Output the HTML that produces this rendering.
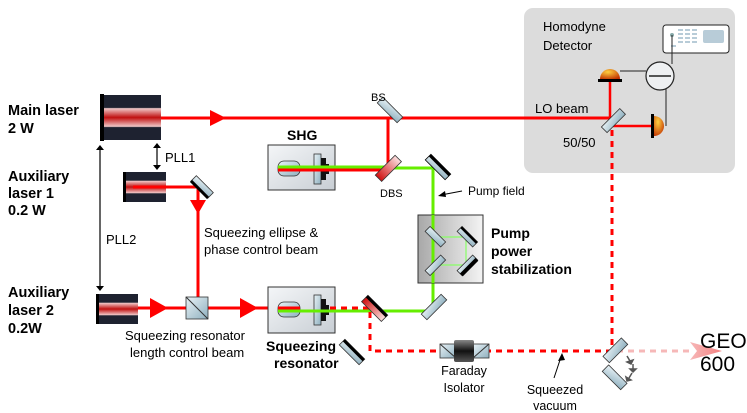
<!DOCTYPE html>
<html><head><meta charset="utf-8"><style>
html,body{margin:0;padding:0;background:#fff;}
svg{display:block;font-family:"Liberation Sans",sans-serif;}
</style></head><body>
<svg width="747" height="413" viewBox="0 0 747 413" xmlns="http://www.w3.org/2000/svg">
<defs>
<linearGradient id="las" x1="0" y1="0" x2="0" y2="1">
<stop offset="0" stop-color="#1e2230"/><stop offset="0.28" stop-color="#1e2230"/>
<stop offset="0.3" stop-color="#f0c8c8"/><stop offset="0.5" stop-color="#c01010"/>
<stop offset="0.7" stop-color="#f0c8c8"/><stop offset="0.72" stop-color="#1e2230"/><stop offset="1" stop-color="#1e2230"/>
</linearGradient>
<linearGradient id="glass" x1="0" y1="0" x2="1" y2="1">
<stop offset="0" stop-color="#e8f2f6"/><stop offset="1" stop-color="#8fb0bf"/>
</linearGradient>
<linearGradient id="redm" x1="0" y1="0" x2="1" y2="0">
<stop offset="0" stop-color="#d01010"/><stop offset="1" stop-color="#fbe0e0"/>
</linearGradient>
<linearGradient id="box" x1="0" y1="0" x2="1" y2="1">
<stop offset="0" stop-color="#f4f6f8"/><stop offset="1" stop-color="#c8ced4"/>
</linearGradient>
<linearGradient id="pbox" x1="0" y1="0" x2="1" y2="0">
<stop offset="0" stop-color="#a8a8a8"/><stop offset="1" stop-color="#f4f4f4"/>
</linearGradient>
<radialGradient id="det" cx="0.4" cy="0.3" r="0.8">
<stop offset="0" stop-color="#ffd040"/><stop offset="1" stop-color="#c03000"/>
</radialGradient>
<linearGradient id="far" x1="0" y1="0" x2="0" y2="1">
<stop offset="0" stop-color="#888"/><stop offset="0.5" stop-color="#111"/><stop offset="1" stop-color="#555"/>
</linearGradient>
<linearGradient id="pink" x1="0" y1="0" x2="1" y2="0">
<stop offset="0" stop-color="#f6b8b8"/><stop offset="1" stop-color="#f48080"/>
</linearGradient>
</defs>

<rect x="524" y="8" width="211" height="165" rx="9" fill="#dcdcdc"/>
<text x="543" y="31" font-size="13">Homodyne</text>
<text x="543" y="50" font-size="13">Detector</text>
<rect x="663" y="25" width="66" height="28" rx="3" fill="#fff" stroke="#222" stroke-width="1"/>
<rect x="703" y="30" width="21" height="13" rx="2" fill="#b8ccd8"/>
<g fill="#b8ccd8"><rect x="678" y="29" width="5" height="2"/><rect x="685" y="29" width="5" height="2"/><rect x="692" y="29" width="5" height="2"/>
<rect x="678" y="33" width="5" height="2"/><rect x="685" y="33" width="5" height="2"/><rect x="692" y="33" width="5" height="2"/>
<rect x="678" y="37" width="5" height="2"/><rect x="685" y="37" width="5" height="2"/><rect x="692" y="37" width="5" height="2"/>
<rect x="678" y="41" width="5" height="2"/><rect x="685" y="41" width="5" height="2"/><rect x="692" y="41" width="5" height="2"/>
<rect x="671" y="45" width="5" height="2"/></g>
<circle cx="672" cy="35" r="2" fill="#8aa"/>
<line x1="672" y1="35" x2="672" y2="64" stroke="#222" stroke-width="1"/>
<line x1="620" y1="71" x2="646" y2="71" stroke="#222" stroke-width="1"/>
<line x1="666" y1="88" x2="666" y2="126" stroke="#222" stroke-width="1"/>
<circle cx="660" cy="76" r="14" fill="#eef0f2" stroke="#222" stroke-width="1.2"/>
<line x1="649" y1="76" x2="671" y2="76" stroke="#222" stroke-width="1.5"/>

<line x1="160" y1="118" x2="610" y2="118" stroke="#f00" stroke-width="3"/>
<polygon points="210,110 226,118 210,126" fill="#f00"/>
<line x1="610" y1="118" x2="610" y2="72" stroke="#f00" stroke-width="2.5"/>
<line x1="613" y1="126" x2="652" y2="126" stroke="#f00" stroke-width="2.5"/>
<path d="M600 79 A10 10 0 0 1 620 79 Z" fill="url(#det)"/>
<rect x="598" y="79" width="24" height="3" fill="#000"/>
<path d="M654 116 A10 10 0 0 1 654 136 Z" fill="url(#det)"/>
<rect x="651" y="114" width="3" height="24" fill="#000"/>
<rect x="601" y="118" width="26" height="8" fill="url(#glass)" stroke="#333" stroke-width="0.8" transform="rotate(-45 612 122)"/>
<text x="535" y="113" font-size="13">LO beam</text>
<text x="563" y="147" font-size="13">50/50</text>

<rect x="104" y="95" width="57" height="45" fill="url(#las)"/>
<rect x="100" y="94" width="4" height="47" fill="#000"/>
<text x="8" y="115" font-size="14.5" font-weight="bold">Main laser</text>
<text x="8" y="133" font-size="14.5" font-weight="bold">2 W</text>

<line x1="388" y1="118" x2="388" y2="168" stroke="#f00" stroke-width="3"/>
<rect x="376" y="106" width="28" height="8" fill="url(#glass)" stroke="#333" stroke-width="0.8" transform="rotate(45 390 110)"/>
<text x="371" y="101" font-size="11">BS</text>

<rect x="268" y="145" width="67" height="45" fill="url(#box)" stroke="#333" stroke-width="1"/>
<text x="287" y="140" font-size="14" font-weight="bold">SHG</text>
<rect x="278" y="161" width="22" height="15" rx="6" fill="url(#glass)" stroke="#333" stroke-width="0.8"/>
<rect x="314" y="154" width="7" height="30" fill="url(#glass)" stroke="#333" stroke-width="0.8"/>
<path d="M321 158 h5 v6 h3 v10 h-3 v6 h-5 Z" fill="#111"/>
<line x1="278" y1="167" x2="388" y2="167" stroke="#6e0" stroke-width="3"/>
<line x1="278" y1="170" x2="388" y2="170" stroke="#f00" stroke-width="3"/>
<polyline points="388,168 433,168 433,308" fill="none" stroke="#6e0" stroke-width="3"/>
<rect x="374" y="164" width="28" height="9" fill="url(#redm)" stroke="#333" stroke-width="0.8" transform="rotate(-45 388 168)"/>
<text x="380" y="197" font-size="11">DBS</text>
<rect x="424" y="163" width="28" height="8" fill="url(#glass)" stroke="#000" stroke-width="0.8" transform="rotate(45 438 167)"/>
<rect x="424" y="163" width="28" height="3" fill="#000" transform="rotate(45 438 167)"/>
<line x1="462" y1="191" x2="441" y2="195" stroke="#000" stroke-width="1"/>
<polygon points="438,196 445,191 446,197" fill="#000"/>
<text x="468" y="195" font-size="12">Pump field</text>

<rect x="418" y="215" width="65" height="68" fill="url(#pbox)" stroke="#333" stroke-width="1"/>
<polyline points="433,237 466,237 466,265 433,265" fill="none" stroke="#8f6" stroke-width="1.2"/>
<line x1="433" y1="215" x2="433" y2="283" stroke="#6e0" stroke-width="3"/>
<rect x="424" y="233" width="22" height="7" fill="url(#glass)" stroke="#333" stroke-width="0.8" transform="rotate(45 435 237)"/>
<rect x="424" y="262" width="22" height="7" fill="url(#glass)" stroke="#333" stroke-width="0.8" transform="rotate(-45 435 265)"/>
<rect x="456" y="233" width="22" height="7" fill="url(#glass)" stroke="#333" stroke-width="0.8" transform="rotate(45 467 237)"/>
<rect x="456" y="233" width="22" height="2.5" fill="#000" transform="rotate(45 467 237)"/>
<rect x="456" y="262" width="22" height="7" fill="url(#glass)" stroke="#333" stroke-width="0.8" transform="rotate(-45 467 265)"/>
<rect x="456" y="266" width="22" height="4" fill="#000" transform="rotate(-45 467 265)"/>
<text x="491" y="238" font-size="14" font-weight="bold">Pump</text>
<text x="491" y="256" font-size="14" font-weight="bold">power</text>
<text x="491" y="274" font-size="14" font-weight="bold">stabilization</text>

<rect x="126" y="172" width="40" height="30" fill="url(#las)"/>
<rect x="123" y="172" width="3" height="30" fill="#000"/>
<line x1="133" y1="187" x2="198" y2="187" stroke="#f00" stroke-width="3"/>
<line x1="198" y1="187" x2="198" y2="300" stroke="#f00" stroke-width="3"/>
<polygon points="190,200 206,200 198,214" fill="#f00"/>
<rect x="190" y="183" width="24" height="8" fill="url(#glass)" stroke="#333" stroke-width="0.8" transform="rotate(45 202 187)"/>
<rect x="190" y="189" width="24" height="3" fill="#000" transform="rotate(45 202 187)"/>
<text x="8" y="181" font-size="14.5" font-weight="bold">Auxiliary</text>
<text x="8" y="198" font-size="14.5" font-weight="bold">laser 1</text>
<text x="8" y="215" font-size="14.5" font-weight="bold">0.2 W</text>
<text x="204" y="237" font-size="13">Squeezing ellipse &amp;</text>
<text x="204" y="254" font-size="13">phase control beam</text>

<line x1="157" y1="147" x2="157" y2="166" stroke="#000" stroke-width="1.2"/>
<polygon points="153,148 161,148 157,143" fill="#000"/><polygon points="153,165 161,165 157,170" fill="#000"/>
<text x="165" y="162" font-size="13">PLL1</text>
<line x1="100" y1="149" x2="100" y2="287" stroke="#000" stroke-width="1.2"/>
<polygon points="96,150 104,150 100,145" fill="#000"/><polygon points="96,286 104,286 100,291" fill="#000"/>
<text x="106" y="244" font-size="13">PLL2</text>

<rect x="99" y="294" width="39" height="30" fill="url(#las)"/>
<rect x="96" y="294" width="3" height="30" fill="#000"/>
<line x1="138" y1="308" x2="278" y2="308" stroke="#f00" stroke-width="3"/>
<polygon points="150,298 168,308 150,318" fill="#f00"/>
<polygon points="240,298 258,308 240,318" fill="#f00"/>
<rect x="186" y="297" width="22" height="22" fill="url(#glass)" stroke="#333" stroke-width="0.8"/>
<line x1="186" y1="297" x2="208" y2="319" stroke="#333" stroke-width="1"/>
<text x="8" y="297" font-size="14.5" font-weight="bold">Auxiliary</text>
<text x="8" y="315" font-size="14.5" font-weight="bold">laser 2</text>
<text x="8" y="333" font-size="14.5" font-weight="bold">0.2W</text>
<text x="125" y="340" font-size="13">Squeezing resonator</text>
<text x="130" y="357" font-size="13">length control beam</text>

<rect x="268" y="287" width="67" height="46" fill="url(#box)" stroke="#333" stroke-width="1"/>
<rect x="278" y="302" width="22" height="15" rx="6" fill="url(#glass)" stroke="#333" stroke-width="0.8"/>
<rect x="314" y="295" width="7" height="30" fill="url(#glass)" stroke="#333" stroke-width="0.8"/>
<path d="M321 299 h5 v6 h3 v10 h-3 v6 h-5 Z" fill="#111"/>
<line x1="278" y1="308" x2="300" y2="308" stroke="#f00" stroke-width="3"/>
<line x1="278" y1="311" x2="433" y2="311" stroke="#6e0" stroke-width="3"/>
<text x="266" y="351" font-size="14" font-weight="bold">Squeezing</text>
<text x="274" y="368" font-size="14" font-weight="bold">resonator</text>
<g fill="none" stroke="#f00" stroke-width="3" stroke-dasharray="6,5">
<polyline points="330,308 370,308 370,351 612,351"/>
<line x1="612" y1="130" x2="612" y2="348"/>
</g>
<line x1="617" y1="351" x2="690" y2="351" stroke="#f6b8b8" stroke-width="3" stroke-dasharray="6,5"/>
<polygon points="690,342 722,351 690,360 697,351" fill="url(#pink)"/>
<rect x="361" y="304" width="28" height="9" fill="url(#redm)" stroke="#333" stroke-width="0.8" transform="rotate(45 375 308)"/>
<rect x="361" y="304" width="28" height="3" fill="#000" transform="rotate(45 375 308)"/>
<rect x="420" y="303" width="28" height="8" fill="url(#glass)" stroke="#333" stroke-width="0.8" transform="rotate(-45 434 307)"/>
<rect x="338" y="348" width="28" height="8" fill="url(#glass)" stroke="#333" stroke-width="0.8" transform="rotate(45 352 352)"/>
<rect x="338" y="348" width="28" height="3" fill="#000" transform="rotate(45 352 352)"/>

<rect x="440" y="344" width="16" height="14" fill="url(#glass)" stroke="#333" stroke-width="0.8"/>
<line x1="440" y1="344" x2="456" y2="358" stroke="#333"/>
<rect x="473" y="344" width="16" height="14" fill="url(#glass)" stroke="#333" stroke-width="0.8"/>
<line x1="473" y1="358" x2="489" y2="344" stroke="#333"/>
<rect x="454" y="340" width="20" height="22" rx="2" fill="url(#far)"/>
<text x="464" y="375" font-size="12.5" text-anchor="middle">Faraday</text>
<text x="464" y="392" font-size="12.5" text-anchor="middle">Isolator</text>

<line x1="554" y1="378" x2="561" y2="357" stroke="#000" stroke-width="1"/>
<polygon points="562,353 558,361 565,360" fill="#000"/>
<text x="555" y="394" font-size="12.5" text-anchor="middle">Squeezed</text>
<text x="555" y="410" font-size="12.5" text-anchor="middle">vacuum</text>

<rect x="602" y="346" width="26" height="9" fill="url(#glass)" stroke="#333" stroke-width="0.8" transform="rotate(-45 615 350)"/>
<rect x="602" y="373" width="26" height="9" fill="url(#glass)" stroke="#333" stroke-width="0.8" transform="rotate(45 615 377)"/>
<g stroke="#555" stroke-width="1.5" fill="#555">
<line x1="627" y1="356" x2="630" y2="361"/><polygon points="627,362 633,360 631,364"/>
<line x1="633" y1="364" x2="633" y2="369"/><polygon points="630,369 636,369 633,372"/>
<line x1="632" y1="373" x2="629" y2="378"/><polygon points="626,377 631,380 627,381"/>
</g>
<text x="700" y="348" font-size="21">GEO</text>
<text x="700" y="371" font-size="21">600</text>
</svg>
</body></html>
